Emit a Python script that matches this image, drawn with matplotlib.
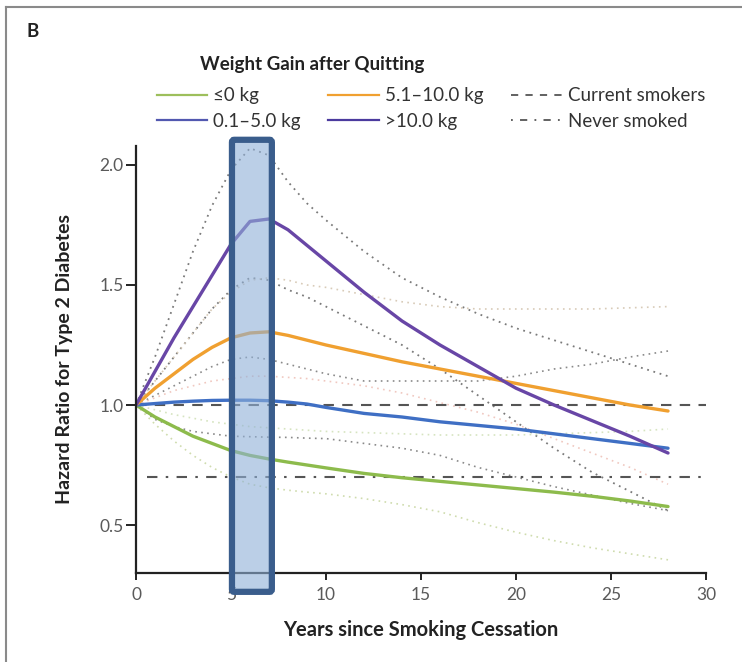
import matplotlib
matplotlib.use("Agg")
import matplotlib.pyplot as plt
from matplotlib.lines import Line2D
from matplotlib.patches import FancyBboxPatch

plt.rcParams["font.family"] = ["Lato", "DejaVu Sans"]

# years since cessation, shared by every curve
years = [0, 1, 2, 3, 4, 5, 6, 7, 8, 9, 10, 12, 14, 16, 18, 20, 22, 24, 26, 28]

# hazard ratios by weight gain after quitting
hr_le0 = [1.0, 0.95, 0.91, 0.87, 0.84, 0.81, 0.79, 0.775, 0.762, 0.75, 0.738,
          0.715, 0.697, 0.682, 0.667, 0.652, 0.637, 0.62, 0.60, 0.577]
hr_0_5 = [1.0, 1.006, 1.012, 1.016, 1.019, 1.02, 1.02, 1.018, 1.012, 1.004, 0.99,
          0.965, 0.95, 0.93, 0.915, 0.90, 0.88, 0.86, 0.84, 0.82]
hr_5_10 = [1.0, 1.07, 1.13, 1.19, 1.24, 1.28, 1.30, 1.305, 1.29, 1.27, 1.25,
           1.215, 1.18, 1.15, 1.12, 1.09, 1.06, 1.03, 1.0, 0.975]
hr_gt10 = [1.0, 1.14, 1.28, 1.41, 1.54, 1.67, 1.765, 1.775, 1.73, 1.665, 1.60,
           1.47, 1.35, 1.25, 1.16, 1.07, 1.0, 0.935, 0.87, 0.80]

# 95% confidence bands (dotted)
gt10_hi = [1.0, 1.2, 1.42, 1.64, 1.83, 1.98, 2.07, 2.04, 1.93, 1.84, 1.77,
           1.64, 1.53, 1.45, 1.38, 1.32, 1.27, 1.22, 1.17, 1.12]
gt10_lo = [1.0, 1.1, 1.2, 1.3, 1.40, 1.48, 1.53, 1.52, 1.48, 1.45, 1.41,
           1.33, 1.25, 1.15, 1.04, 0.93, 0.82, 0.72, 0.64, 0.56]
b0_5_hi = [1.0, 1.04, 1.08, 1.12, 1.16, 1.19, 1.20, 1.19, 1.17, 1.15, 1.13,
           1.10, 1.10, 1.10, 1.10, 1.12, 1.15, 1.17, 1.20, 1.225]
b0_5_lo = [1.0, 0.94, 0.91, 0.89, 0.88, 0.87, 0.868, 0.866, 0.865, 0.862, 0.86,
           0.84, 0.82, 0.79, 0.74, 0.70, 0.66, 0.625, 0.59, 0.56]
b5_10_hi = [1.0, 1.1, 1.2, 1.3, 1.4, 1.47, 1.52, 1.53, 1.52, 1.50, 1.49,
            1.46, 1.43, 1.41, 1.40, 1.40, 1.40, 1.40, 1.405, 1.41]
b5_10_lo = [1.0, 1.03, 1.06, 1.08, 1.10, 1.11, 1.12, 1.12, 1.115, 1.11, 1.10,
            1.08, 1.05, 1.01, 0.97, 0.92, 0.86, 0.80, 0.74, 0.67]
le0_hi = [1.0, 0.98, 0.96, 0.945, 0.93, 0.92, 0.91, 0.905, 0.90, 0.895, 0.89,
          0.885, 0.88, 0.875, 0.875, 0.875, 0.88, 0.885, 0.89, 0.90]
le0_lo = [1.0, 0.92, 0.85, 0.79, 0.74, 0.70, 0.67, 0.655, 0.645, 0.637, 0.63,
          0.61, 0.585, 0.555, 0.51, 0.47, 0.435, 0.405, 0.38, 0.355]

current_hr = 1.0
never_hr = 0.70
ref_x = [0, 30]
never_x = [0.6, 30]

highlight_years = (5.05, 7.15)

labels = ["\u22640 kg", "0.1\u20135.0 kg", "5.1\u201310.0 kg", ">10.0 kg"]
curve_colors = ["#8dbb4c", "#3f6fc4", "#f0a030", "#6846a6"]
legend_colors = ["#9dbf5c", "#5258b0", "#f0a030", "#4b3a9e"]

fig = plt.figure(figsize=(7.42, 6.62), dpi=100)
ax = fig.add_axes([0.1833, 0.1344, 0.7682, 0.6454])

# confidence bands
dot = (0, (1, 2.6))
ax.plot(years, gt10_hi, color="#7a7a7a", lw=1.3, ls=dot)
ax.plot(years, gt10_lo, color="#7a7a7a", lw=1.3, ls=dot)
ax.plot(years, b0_5_hi, color="#8a8a8a", lw=1.2, ls=dot)
ax.plot(years, b0_5_lo, color="#8a8a8a", lw=1.2, ls=dot)
ax.plot(years, b5_10_hi, color="#d8cbb8", lw=1.2, ls=dot)
ax.plot(years, b5_10_lo, color="#f0c8c0", lw=1.2, ls=dot)
ax.plot(years, le0_hi, color="#d6e4c0", lw=1.2, ls=dot)
ax.plot(years, le0_lo, color="#cfdcae", lw=1.2, ls=dot)

# reference groups
ax.plot(ref_x, [current_hr, current_hr], color="#555555", lw=1.5, ls=(0, (5, 4)))
ax.plot(never_x, [never_hr, never_hr], color="#555555", lw=1.5,
        ls=(0, (5, 4, 1.2, 4)))

for hr, c in zip([hr_le0, hr_0_5, hr_5_10, hr_gt10], curve_colors):
    ax.plot(years, hr, color=c, lw=2.4, solid_capstyle="round", solid_joinstyle="round")

ax.set_xlim(0, 30)
ax.set_ylim(0.3, 2.08)
ax.set_xticks([0, 5, 10, 15, 20, 25, 30])
ax.set_yticks([0.5, 1.0, 1.5, 2.0])
ax.set_yticklabels(["0.5", "1.0", "1.5", "2.0"])
ax.spines[["top", "right"]].set_visible(False)
for s in ("left", "bottom"):
    ax.spines[s].set_linewidth(1.6)
    ax.spines[s].set_color("#222222")
ax.tick_params(axis="y", length=7, width=1.4, labelsize=12.5, colors="#222222",
               labelcolor="#5a5a5a", pad=2)
ax.tick_params(axis="x", length=5, width=1.4, labelsize=12.5, colors="#222222",
               labelcolor="#5a5a5a", pad=5)
ax.set_xlabel("Years since Smoking Cessation", fontsize=14.5, fontweight="bold",
              color="#222222", labelpad=12)
ax.set_ylabel("Hazard Ratio for Type 2 Diabetes", fontsize=14, fontweight="bold",
              color="#222222", labelpad=19)

# highlighted interval
box_kw = dict(boxstyle="round,pad=0,rounding_size=0.12",
              transform=ax.get_xaxis_transform(), clip_on=False, mutation_aspect=0.05)
ax.add_patch(FancyBboxPatch((highlight_years[0], -0.044),
                            highlight_years[1] - highlight_years[0], 1.058,
                            facecolor="#8fb0d8", alpha=0.6, edgecolor="none", zorder=5,
                            **box_kw))
ax.add_patch(FancyBboxPatch((highlight_years[0], -0.044),
                            highlight_years[1] - highlight_years[0], 1.058,
                            facecolor="none", edgecolor="#3a5d8c", lw=4.5, zorder=6,
                            **box_kw))

# legend
handles = [Line2D([], [], color=legend_colors[0], lw=1.6),
           Line2D([], [], color=legend_colors[1], lw=1.6),
           Line2D([], [], color=legend_colors[2], lw=1.6),
           Line2D([], [], color=legend_colors[3], lw=1.6),
           Line2D([], [], color="#555555", lw=1.3, ls=(0, (4, 4))),
           Line2D([], [], color="#555555", lw=1.3, ls=(0, (1, 4, 4, 4)))]
names = labels + ["Current smokers", "Never smoked"]
fig.legend(handles, names, ncol=3, loc="upper left", bbox_to_anchor=(0.211, 0.868),
           frameon=False, fontsize=13.5, handlelength=2.7, handletextpad=0.3,
           columnspacing=1.5, labelspacing=0.45, borderaxespad=0, borderpad=0,
           labelcolor="#333333")
fig.text(0.27, 0.903, "Weight Gain after Quitting", fontsize=13.5, fontweight="bold",
         ha="left", va="center", color="#222222")

fig.text(0.036, 0.952, "B", fontsize=13.5, fontweight="bold", ha="left", va="center",
         color="#222222")

# panel frame
fig.add_artist(Line2D([0.008, 0.008], [0.0, 0.99], color="#8a8a8a", lw=1.5,
                      transform=fig.transFigure))
fig.add_artist(Line2D([0.008, 1.0], [0.99, 0.99], color="#8a8a8a", lw=1.5,
                      transform=fig.transFigure))

fig.savefig("out.png", dpi=100)
